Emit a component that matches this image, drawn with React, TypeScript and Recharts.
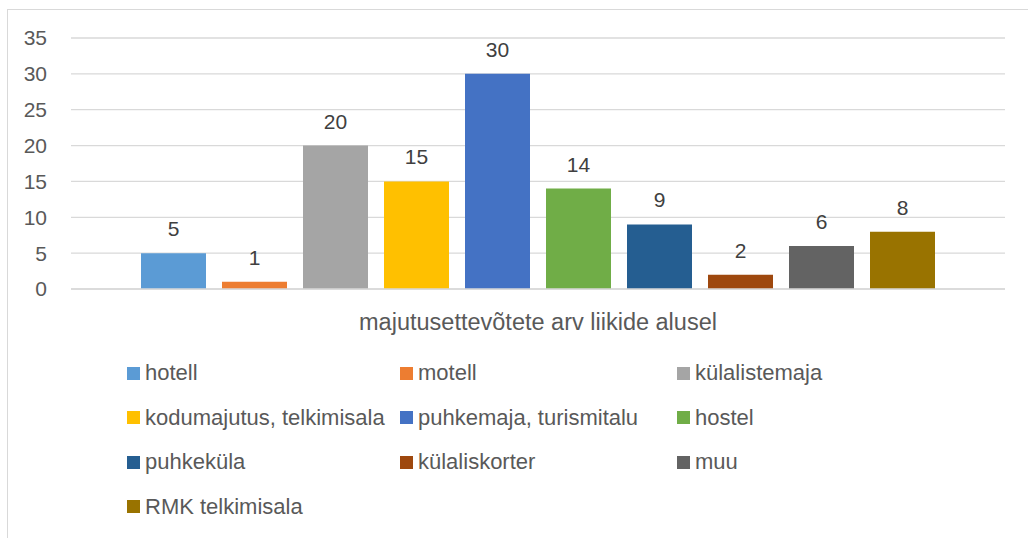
import { BarChart, Bar, XAxis, YAxis, CartesianGrid, LabelList } from 'recharts'

const category = 'majutusettevõtete arv liikide alusel'
const seriesNames = [
  'hotell',
  'motell',
  'külalistemaja',
  'kodumajutus, telkimisala',
  'puhkemaja, turismitalu',
  'hostel',
  'puhkeküla',
  'külaliskorter',
  'muu',
  'RMK telkimisala',
]
const seriesValues = [5, 1, 20, 15, 30, 14, 9, 2, 6, 8]
const seriesColors = [
  '#5B9BD5',
  '#ED7D31',
  '#A5A5A5',
  '#FFC000',
  '#4472C4',
  '#70AD47',
  '#255E91',
  '#9E480E',
  '#636363',
  '#997300',
]
const yTicks = [0, 5, 10, 15, 20, 25, 30, 35]

const FONT = '"Liberation Sans", Arial, sans-serif'

const row: Record<string, string | number> = { name: category }
seriesNames.forEach((_, i) => {
  row[`s${i}`] = seriesValues[i]
})
const chartData = [row]

function ChartLegend() {
  return (
    <div
      style={{
        position: 'absolute',
        left: 127,
        top: 351,
        display: 'grid',
        gridTemplateColumns: '273px 277px 277px',
        gridAutoRows: '44.5px',
        fontFamily: FONT,
        fontSize: 22,
        color: '#595959',
      }}
    >
      {seriesNames.map((n, i) => (
        <div key={n} style={{ display: 'flex', alignItems: 'center', whiteSpace: 'nowrap' }}>
          <span
            style={{
              display: 'inline-block',
              width: 13,
              height: 13,
              background: seriesColors[i],
              marginRight: 5,
            }}
          />
          {n}
        </div>
      ))}
    </div>
  )
}

export default function App() {
  return (
    <div style={{ position: 'absolute', left: 0, top: 0, width: 1028, height: 538, background: '#fff', overflow: 'hidden' }}>
      <div
        style={{
          position: 'absolute',
          left: 7,
          top: 9,
          width: 1040,
          height: 560,
          border: '1px solid #d9d9d9',
        }}
      />
      <BarChart
        width={1028}
        height={538}
        data={chartData}
        margin={{ top: 38, right: 23, bottom: 219, left: 0 }}
        barSize={65}
        barGap={16}
        style={{ fontFamily: FONT }}
      >
        <CartesianGrid vertical={false} stroke="#d9d9d9" strokeWidth={1.3} />
        <XAxis
          dataKey="name"
          height={30}
          axisLine={{ stroke: '#d9d9d9', strokeWidth: 1.3 }}
          tickLine={false}
          tickSize={0}
          tickMargin={24}
          tick={{ fill: '#595959', fontSize: 23.5 }}
        />
        <YAxis
          domain={[0, 35]}
          ticks={yTicks}
          width={71}
          axisLine={false}
          tickLine={false}
          tickSize={0}
          tickMargin={24}
          tick={{ fill: '#595959', fontSize: 21 }}
        />
        {seriesNames.map((n, i) => (
          <Bar key={n} dataKey={`s${i}`} name={n} fill={seriesColors[i]} isAnimationActive={false}>
            <LabelList dataKey={`s${i}`} position="top" offset={17} fill="#404040" fontSize={21} />
          </Bar>
        ))}
      </BarChart>
      <ChartLegend />
    </div>
  )
}
